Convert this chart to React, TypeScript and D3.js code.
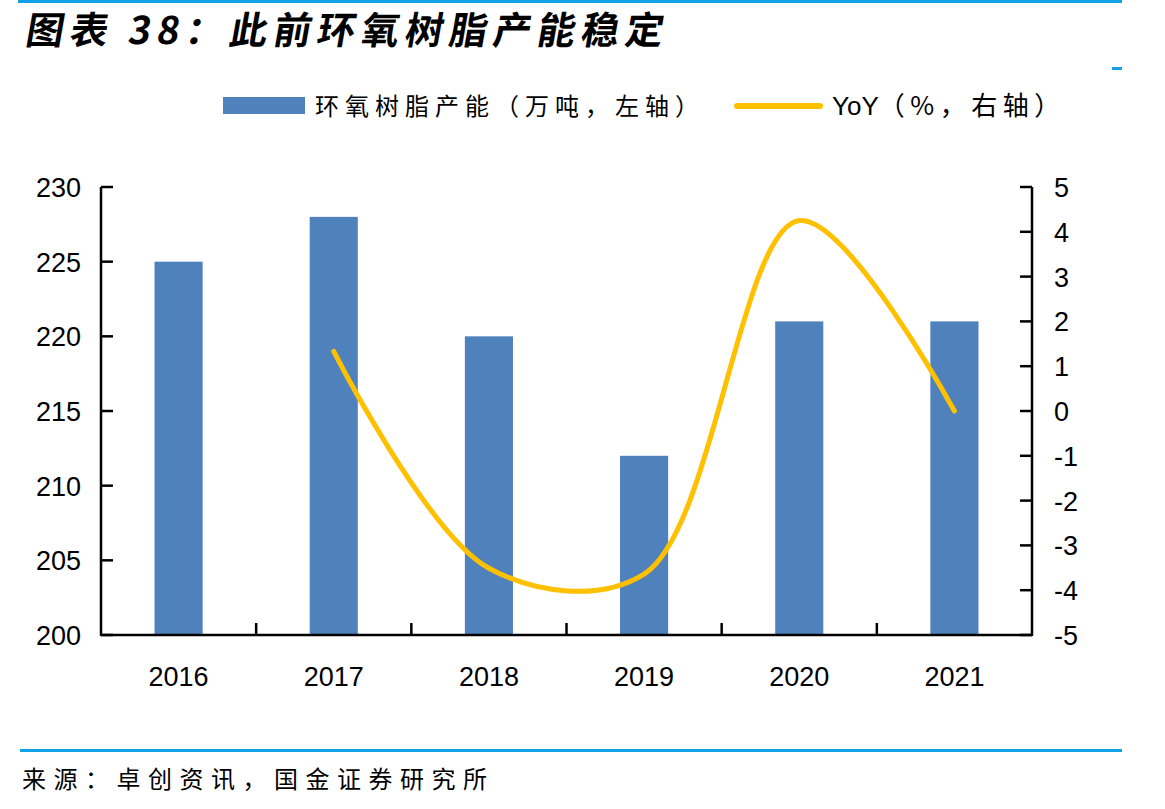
import React, { useEffect, useRef } from 'react';
import * as d3 from 'd3';

// 环氧树脂产能（万吨）与同比
const years = ['2016', '2017', '2018', '2019', '2020', '2021'];
const capacity = [225, 228, 220, 212, 221, 221];
const yoyYears = ['2017', '2018', '2019', '2020', '2021'];
const yoy = [1.33, -3.51, -3.64, 4.25, 0];
const leftTicks = [200, 205, 210, 215, 220, 225, 230];
const rightTicks = [-5, -4, -3, -2, -1, 0, 1, 2, 3, 4, 5];

const W = 1165;
const H = 809;
const plot = { left: 101, right: 1032, top: 187, bottom: 635 };
const blue = '#4F81BD';
const gold = '#FFC000';
const rule = '#12A1E8';
const numFont = '"Liberation Sans", Arial, sans-serif';
const cjkFont = '"Noto Sans CJK SC", "Liberation Sans", sans-serif';

const App = () => {
  const ref = useRef<SVGSVGElement>(null);

  useEffect(() => {
    const svg = d3.select(ref.current);
    svg.selectAll('*').remove();

    const x = d3.scaleBand().domain(years).range([plot.left, plot.right]).padding(0);
    const yL = d3.scaleLinear().domain([200, 230]).range([plot.bottom, plot.top]);
    const yR = d3.scaleLinear().domain([-5, 5]).range([plot.bottom, plot.top]);
    const barW = x.bandwidth() * 0.31;

    // header rules
    svg.append('rect').attr('x', 18).attr('y', 0).attr('width', 1104).attr('height', 3).attr('fill', rule);
    svg.append('rect').attr('x', 1112).attr('y', 67).attr('width', 10).attr('height', 3).attr('fill', rule);
    svg.append('rect').attr('x', 20).attr('y', 749).attr('width', 1102).attr('height', 3).attr('fill', rule);

    svg.append('text')
      .attr('x', 24).attr('y', 44)
      .attr('font-family', cjkFont)
      .attr('font-size', 38)
      .attr('font-weight', 'bold')
      .attr('letter-spacing', 6)
      .attr('transform', 'skewX(-10) translate(8,0)')
      .text('图表 38：此前环氧树脂产能稳定');

    svg.append('text')
      .attr('x', 22).attr('y', 788)
      .attr('font-family', cjkFont)
      .attr('font-size', 24)
      .attr('letter-spacing', 7.5)
      .text('来源：卓创资讯，国金证券研究所');

    // legend
    svg.append('rect').attr('x', 223).attr('y', 97).attr('width', 82).attr('height', 17).attr('fill', blue);
    svg.append('text')
      .attr('x', 315).attr('y', 115)
      .attr('font-family', cjkFont)
      .attr('font-size', 24)
      .attr('letter-spacing', 6)
      .text('环氧树脂产能（万吨，左轴）');
    svg.append('line')
      .attr('x1', 737).attr('x2', 820).attr('y1', 106).attr('y2', 106)
      .attr('stroke', gold).attr('stroke-width', 6).attr('stroke-linecap', 'round');
    const lg = svg.append('text')
      .attr('x', 832).attr('y', 115)
      .attr('font-size', 26);
    lg.append('tspan').attr('font-family', numFont).text('YoY');
    lg.append('tspan').attr('font-family', cjkFont).attr('letter-spacing', 5.5).text('（%，右轴）');

    // bars
    svg.append('g')
      .selectAll('rect')
      .data(capacity)
      .join('rect')
      .attr('x', (d, i) => (x(years[i]) as number) + (x.bandwidth() - barW) / 2)
      .attr('y', d => yL(d))
      .attr('width', barW)
      .attr('height', d => plot.bottom - yL(d))
      .attr('fill', blue);

    // yoy line, smoothed
    const line = d3.line<number>()
      .x((d, i) => (x(yoyYears[i]) as number) + x.bandwidth() / 2)
      .y(d => yR(d))
      .curve(d3.curveCatmullRom.alpha(0.5));
    svg.append('path')
      .attr('d', line(yoy))
      .attr('fill', 'none')
      .attr('stroke', gold)
      .attr('stroke-width', 5)
      .attr('stroke-linecap', 'round');

    // axes
    const ax = svg.append('g').attr('stroke', '#000').attr('stroke-width', 2.5);
    ax.append('line').attr('x1', plot.left).attr('x2', plot.left).attr('y1', plot.top).attr('y2', plot.bottom + 1);
    ax.append('line').attr('x1', plot.right).attr('x2', plot.right).attr('y1', plot.top).attr('y2', plot.bottom + 1);
    ax.append('line').attr('x1', plot.left).attr('x2', plot.right).attr('y1', plot.bottom).attr('y2', plot.bottom);

    ax.selectAll('.tl')
      .data(leftTicks)
      .join('line')
      .attr('x1', plot.left).attr('x2', plot.left + 12)
      .attr('y1', d => yL(d)).attr('y2', d => yL(d));
    ax.selectAll('.tr')
      .data(rightTicks)
      .join('line')
      .attr('x1', plot.right - 12).attr('x2', plot.right)
      .attr('y1', d => yR(d)).attr('y2', d => yR(d));
    ax.selectAll('.tx')
      .data(years.slice(1))
      .join('line')
      .attr('x1', d => x(d) as number).attr('x2', d => x(d) as number)
      .attr('y1', plot.bottom - 12).attr('y2', plot.bottom);

    const lab = svg.append('g').attr('font-family', numFont).attr('font-size', 27).attr('fill', '#000');
    lab.selectAll('.ll')
      .data(leftTicks)
      .join('text')
      .attr('x', 81)
      .attr('y', d => yL(d) + 10)
      .attr('text-anchor', 'end')
      .text(d => d);
    lab.selectAll('.rl')
      .data(rightTicks)
      .join('text')
      .attr('x', 1054)
      .attr('y', d => yR(d) + 10)
      .attr('text-anchor', 'start')
      .text(d => d);
    lab.selectAll('.xl')
      .data(years)
      .join('text')
      .attr('x', d => (x(d) as number) + x.bandwidth() / 2)
      .attr('y', 686)
      .attr('text-anchor', 'middle')
      .text(d => d);
  }, []);

  return (
    <svg ref={ref} width={W} height={H}
      style={{ position: 'absolute', left: 0, top: 0, background: '#fff' }} />
  );
};

export default App;
